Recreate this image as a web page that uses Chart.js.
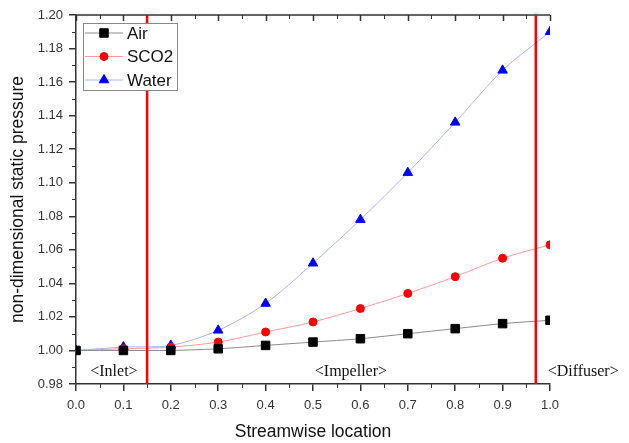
<!DOCTYPE html>
<html>
<head>
<meta charset="utf-8">
<script src="https://cdn.jsdelivr.net/npm/chart.js@4"></script>
<style>
  body { margin: 0; background: #fff; }
  canvas { display: block; }
</style>
</head>
<body>
<canvas id="myChart" width="629" height="443"></canvas>
<script>
var location_ = [0.0, 0.1, 0.2, 0.3, 0.4, 0.5, 0.6, 0.7, 0.8, 0.9, 1.0];
var air = [1.000, 1.000, 1.000, 1.001, 1.003, 1.005, 1.007, 1.010, 1.013, 1.016, 1.018];
var sco2 = [1.000, 1.001, 1.002, 1.005, 1.011, 1.017, 1.025, 1.034, 1.044, 1.055, 1.063];
var water = [1.000, 1.002, 1.003, 1.012, 1.028, 1.052, 1.078, 1.106, 1.136, 1.167, 1.190];
var seriesNames = ["Air", "SCO2", "Water"];
var boundaries = [0.15, 0.97];
var regions = [["<Inlet>", 0.08], ["<Impeller>", 0.58], ["<Diffuser>", 1.07]];

function pts(ys) {
	return ys.map(function (y, i) { return { x: location_[i], y: y }; });
}

var axisColor = "#333";
var sans = "'Liberation Sans', Arial, sans-serif";

var decor = {
	id: "decor",
	afterDatasetsDraw: function (chart) {
		var ctx = chart.ctx;
		var a = chart.chartArea;
		var xs = chart.scales.x, ys = chart.scales.y;
		ctx.save();
		// minor ticks
		ctx.strokeStyle = axisColor;
		ctx.lineWidth = 1;
		ctx.beginPath();
		for (var v = 0.05; v < 1; v += 0.1) {
			var px = Math.round(xs.getPixelForValue(v)) + 0.5;
			ctx.moveTo(px, a.bottom); ctx.lineTo(px, a.bottom + 4);
			ctx.moveTo(px, a.top); ctx.lineTo(px, a.top + 4);
		}
		for (var w = 0.99; w < 1.2; w += 0.02) {
			var py = Math.round(ys.getPixelForValue(w)) + 0.5;
			ctx.moveTo(a.left, py); ctx.lineTo(a.left - 4, py);
		}
		ctx.stroke();
		// top frame with inward ticks
		ctx.lineWidth = 1.5;
		ctx.beginPath();
		ctx.moveTo(a.left, a.top); ctx.lineTo(a.right, a.top);
		for (var i = 0; i <= 10; i++) {
			var tx = Math.round(xs.getPixelForValue(i / 10)) + 0.5;
			ctx.moveTo(tx, a.top); ctx.lineTo(tx, a.top + 6);
		}
		ctx.stroke();
		// red boundaries
		ctx.strokeStyle = "#ff0000";
		ctx.lineWidth = 2.5;
		boundaries.forEach(function (b) {
			var bx = xs.getPixelForValue(b);
			ctx.beginPath();
			ctx.moveTo(bx, a.top); ctx.lineTo(bx, a.bottom);
			ctx.stroke();
		});
		// region labels
		ctx.fillStyle = "#111";
		ctx.font = "16px 'Liberation Serif', 'DejaVu Serif', serif";
		ctx.textAlign = "center";
		ctx.textBaseline = "middle";
		regions.forEach(function (r) {
			ctx.fillText(r[0], xs.getPixelForValue(r[1]), ys.getPixelForValue(0.9875));
		});
		// legend
		var lx = 83, ly = 23, lw = 94, lh = 67;
		ctx.fillStyle = "#fff";
		ctx.fillRect(lx, ly, lw, lh);
		ctx.strokeStyle = "#888";
		ctx.lineWidth = 1;
		ctx.strokeRect(lx + 0.5, ly + 0.5, lw, lh);
		ctx.font = "17px " + sans;
		ctx.textAlign = "left";
		chart.data.datasets.forEach(function (ds, k) {
			var rowY = ly + 10 + k * 23.5;
			ctx.strokeStyle = ds.borderColor;
			ctx.lineWidth = 1;
			ctx.beginPath();
			ctx.moveTo(lx + 2, rowY); ctx.lineTo(lx + 40, rowY);
			ctx.stroke();
			ctx.fillStyle = ds.pointBackgroundColor;
			ctx.strokeStyle = ds.pointBorderColor;
			Chart.helpers.drawPoint(ctx, {
				pointStyle: ds.pointStyle, radius: ds.pointRadius, borderWidth: 1
			}, lx + 21, rowY);
			ctx.fillStyle = "#111";
			ctx.fillText(ds.label, lx + 44, rowY + 1);
		});
		ctx.restore();
	}
};

new Chart("myChart", {
	type: "line",
	data: {
		datasets: [
			{
				label: seriesNames[0], data: pts(air),
				borderColor: "#8a8a8a", borderWidth: 1,
				pointStyle: "rect", pointRadius: 6,
				pointBackgroundColor: "#000", pointBorderColor: "#000",
			},
			{
				label: seriesNames[1], data: pts(sco2),
				borderColor: "#ff9a9a", borderWidth: 1,
				pointStyle: "circle", pointRadius: 4,
				pointBackgroundColor: "#ff0000", pointBorderColor: "#ff0000",
			},
			{
				label: seriesNames[2], data: pts(water),
				borderColor: "#aab0ff", borderWidth: 1,
				pointStyle: "triangle", pointRadius: 5.5,
				pointBackgroundColor: "#0000ff", pointBorderColor: "#0000ff",
			},
		].map(function (d) { d.tension = 0.3; d.clip = 0; d.fill = false; return d; }),
	},
	options: {
		responsive: false,
		animation: false,
		layout: { padding: { top: 15, right: 79, left: 0, bottom: 0 } },
		plugins: { legend: { display: false }, tooltip: { enabled: false } },
		scales: {
			x: {
				type: "linear", min: 0, max: 1,
				afterFit: function (s) { s.height = 59; },
				ticks: {
					stepSize: 0.1, color: axisColor, padding: 7,
					font: { size: 13, family: sans },
					callback: function (v) { return v.toFixed(1); },
				},
				grid: { drawOnChartArea: false, tickLength: 7, color: axisColor, lineWidth: 1.5 },
				border: { color: axisColor, width: 1.5 },
				title: {
					display: true, text: "Streamwise location", color: "#111",
					font: { size: 17.5, family: sans },
					padding: { top: 6, bottom: 0 },
				},
			},
			y: {
				min: 0.98, max: 1.2,
				afterFit: function (s) { s.width = 76; },
				ticks: {
					stepSize: 0.02, color: axisColor, padding: 6,
					font: { size: 13, family: sans },
					callback: function (v) { return v.toFixed(2); },
				},
				grid: { drawOnChartArea: false, tickLength: 7, color: axisColor, lineWidth: 1.5 },
				border: { color: axisColor, width: 1.5 },
				title: {
					display: true, text: "non-dimensional static pressure", color: "#111",
					font: { size: 17.5, family: sans },
					padding: { top: 8, bottom: 0 },
				},
			},
		},
	},
	plugins: [decor],
});
</script>
</body>
</html>
